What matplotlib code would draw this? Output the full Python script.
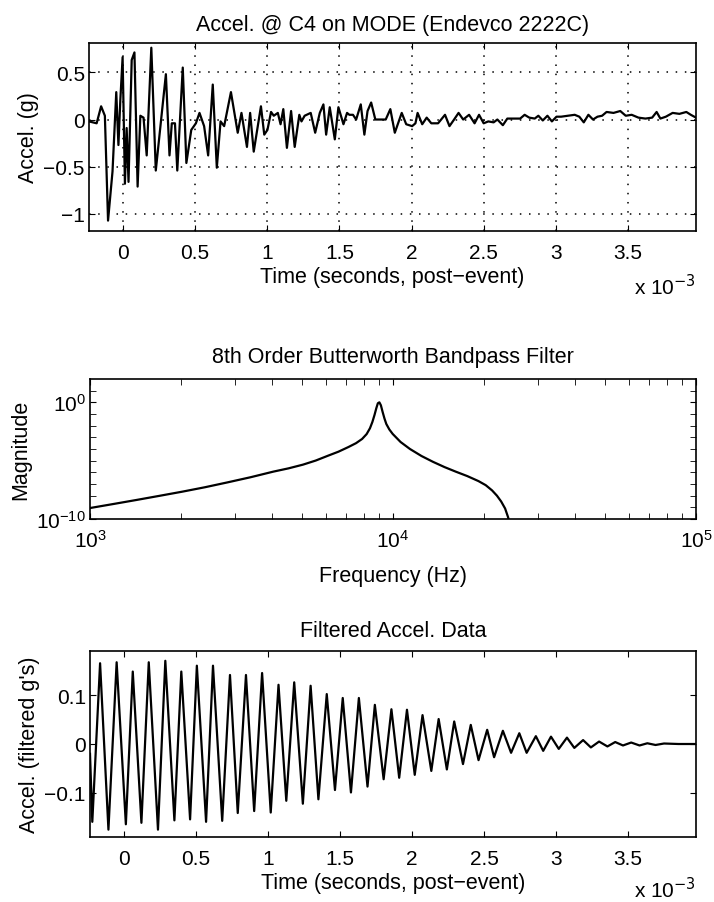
import numpy as np
import matplotlib
matplotlib.use("Agg")
import matplotlib.pyplot as plt
from matplotlib.ticker import FixedLocator, FuncFormatter, NullFormatter, LogLocator

# ---- raw accelerometer record (time in ms, accel in g) ----
t_raw_ms = [-0.236, -0.183, -0.152, -0.126, -0.104, -0.073, -0.047, -0.032, -0.019, -0.003,
            0.013, 0.025, 0.038, 0.060, 0.079, 0.101, 0.120, 0.142, 0.164, 0.196,
            0.227, 0.297, 0.322, 0.338, 0.360, 0.376, 0.414, 0.439, 0.473, 0.505,
            0.530, 0.562, 0.590, 0.622, 0.650, 0.676, 0.701, 0.748, 0.795, 0.821,
            0.859, 0.881, 0.906, 0.956, 0.979, 1.001, 1.026, 1.045, 1.073, 1.092,
            1.111, 1.136, 1.165, 1.190, 1.222, 1.237, 1.259, 1.301, 1.332, 1.364,
            1.389, 1.408, 1.433, 1.468, 1.493, 1.528, 1.553, 1.569, 1.594, 1.616,
            1.648, 1.673, 1.695, 1.720, 1.749, 1.790, 1.821, 1.853, 1.884, 1.932,
            1.963, 2.004, 2.027, 2.042, 2.074, 2.105, 2.137, 2.184, 2.232, 2.263,
            2.295, 2.326, 2.358, 2.399, 2.437, 2.468, 2.500, 2.532, 2.569, 2.595,
            2.633, 2.664, 2.705, 2.753, 2.784, 2.816, 2.854, 2.879, 2.910, 2.942,
            2.973, 3.005, 3.037, 3.084, 3.131, 3.163, 3.194, 3.226, 3.258, 3.289,
            3.321, 3.352, 3.400, 3.447, 3.485, 3.526, 3.573, 3.621, 3.668, 3.699,
            3.725, 3.763, 3.810, 3.857, 3.905, 3.936, 3.972]
acc_raw = [-0.02, -0.04, 0.14, 0.04, -1.07, -0.55, 0.29, -0.27, 0.20, 0.66,
           -0.68, -0.09, -0.66, 0.63, 0.71, -0.71, 0.04, 0.02, -0.38, 0.76,
           -0.54, 0.48, -0.38, -0.04, -0.04, -0.54, 0.55, -0.46, -0.11, -0.04,
           0.07, -0.07, -0.38, 0.37, -0.51, -0.02, -0.07, 0.29, -0.14, 0.07,
           -0.29, 0.07, -0.34, 0.14, -0.16, -0.11, 0.08, 0.04, 0.07, -0.05,
           0.11, -0.30, 0.09, -0.29, 0.05, -0.02, 0.04, 0.07, -0.14, 0.07,
           0.16, -0.16, 0.13, -0.21, 0.13, -0.05, 0.07, 0.05, 0.05, 0.00,
           0.16, -0.16, 0.09, 0.18, 0.00, 0.00, 0.00, 0.11, -0.14, 0.07,
           -0.05, -0.07, -0.04, 0.07, -0.05, 0.02, -0.04, -0.04, 0.05, -0.07,
           0.00, 0.07, 0.00, 0.05, -0.04, 0.05, -0.04, -0.02, -0.03, 0.00,
           -0.06, 0.01, 0.01, 0.01, 0.05, 0.02, 0.01, 0.04, -0.01, 0.04,
           -0.02, 0.03, 0.03, 0.04, 0.05, 0.03, -0.03, 0.05, 0.00, 0.03,
           0.04, 0.08, 0.07, 0.09, 0.04, 0.05, 0.02, 0.01, 0.02, 0.08,
           0.01, 0.03, 0.07, 0.06, 0.08, 0.05, 0.02]

# ---- filter magnitude response (log10 of frequency in Hz, log10 of magnitude) ----
log_freq = [3.000, 3.076, 3.153, 3.228, 3.304, 3.379, 3.454, 3.530, 3.605, 3.655,
            3.703, 3.745, 3.786, 3.820, 3.853, 3.878, 3.898, 3.913, 3.924, 3.932,
            3.939, 3.945, 3.950, 3.955, 3.960, 3.966, 3.972, 3.978, 3.988, 3.999,
            4.025, 4.056, 4.094, 4.132, 4.170, 4.207, 4.245, 4.282, 4.306, 4.327,
            4.343, 4.357, 4.370, 4.380, 4.390]
log_mag = [-9.06, -8.72, -8.37, -8.02, -7.66, -7.28, -6.86, -6.42, -5.94, -5.66,
           -5.34, -4.99, -4.57, -4.23, -3.83, -3.50, -3.14, -2.72, -2.22, -1.68,
           -1.08, -0.50, -0.08, 0.00, -0.25, -0.85, -1.40, -1.86, -2.33, -2.71,
           -3.40, -4.00, -4.60, -5.10, -5.55, -5.94, -6.32, -6.75, -7.10, -7.55,
           -8.00, -8.50, -9.10, -9.86, -11.0]

# ---- filtered record (time in ms, accel in filtered g's) ----
t_filt_ms = [-0.236, -0.220, -0.166, -0.108, -0.051, 0.013, 0.061, 0.121, 0.172, 0.236,
             0.287, 0.350, 0.398, 0.459, 0.506, 0.570, 0.618, 0.682, 0.736, 0.790,
             0.847, 0.904, 0.959, 1.019, 1.073, 1.127, 1.182, 1.242, 1.296, 1.350,
             1.408, 1.465, 1.519, 1.576, 1.631, 1.691, 1.742, 1.803, 1.857, 1.911,
             1.965, 2.019, 2.073, 2.134, 2.185, 2.242, 2.293, 2.354, 2.408, 2.462,
             2.522, 2.570, 2.631, 2.688, 2.745, 2.796, 2.860, 2.911, 2.965, 3.019,
             3.076, 3.127, 3.188, 3.242, 3.299, 3.357, 3.411, 3.465, 3.522, 3.580,
             3.634, 3.691, 3.750, 3.850, 3.972]
acc_filt = [-0.02, -0.159, 0.165, -0.175, 0.167, -0.164, 0.148, -0.161, 0.167, -0.175,
            0.170, -0.156, 0.148, -0.154, 0.160, -0.159, 0.160, -0.157, 0.141, -0.141,
            0.141, -0.137, 0.145, -0.140, 0.121, -0.116, 0.126, -0.122, 0.119, -0.113,
            0.102, -0.094, 0.094, -0.099, 0.094, -0.087, 0.080, -0.072, 0.071, -0.069,
            0.070, -0.063, 0.059, -0.055, 0.051, -0.052, 0.046, -0.041, 0.039, -0.033,
            0.029, -0.027, 0.027, -0.018, 0.022, -0.018, 0.016, -0.014, 0.015, -0.010,
            0.013, -0.008, 0.008, -0.007, 0.005, -0.005, 0.004, -0.003, 0.003, -0.003,
            0.0015, -0.002, 0.001, 0.0, 0.0]

time_ticks_ms = [0, 0.5, 1, 1.5, 2, 2.5, 3, 3.5]
acc_ticks = [-1, -0.5, 0, 0.5]
filt_ticks = [-0.1, 0, 0.1]

plt.rcParams['font.family'] = ['Liberation Sans', 'DejaVu Sans']
plt.rcParams['font.size'] = 15
plt.rcParams['axes.titlesize'] = 15.5
plt.rcParams['axes.labelsize'] = 15.5
plt.rcParams['axes.linewidth'] = 1.2
plt.rcParams['xtick.direction'] = 'in'
plt.rcParams['ytick.direction'] = 'in'
plt.rcParams['xtick.major.size'] = 4
plt.rcParams['ytick.major.size'] = 4
plt.rcParams['xtick.minor.size'] = 2.5
plt.rcParams['ytick.minor.size'] = 2.5
plt.rcParams['xtick.major.pad'] = 8.5
plt.rcParams['ytick.major.pad'] = 3
plt.rcParams['axes.unicode_minus'] = True

fig = plt.figure(figsize=(7.14, 9.03), dpi=100)

W = 714.0
H = 903.0


def box(left, top, right, bottom):
    return [left / W, 1 - bottom / H, (right - left) / W, (bottom - top) / H]


def signed(v, p):
    return '%g' % v if v >= 0 else '\u2212%g' % -v


ms_fmt = FuncFormatter(lambda v, p: ('%g' % round(v / 1e-3, 6)))
xlim_t = (-0.236e-3, 3.972e-3)

# ---- raw acceleration ----
ax1 = fig.add_axes(box(89, 44, 696, 232))
ax1.plot(np.array(t_raw_ms) * 1e-3, acc_raw, color='black', lw=1.6)
ax1.set_xlim(*xlim_t)
ax1.set_ylim(-1.18, 0.81)
ax1.set_xticks(np.array(time_ticks_ms) * 1e-3)
ax1.xaxis.set_major_formatter(ms_fmt)
ax1.set_yticks(acc_ticks)
ax1.yaxis.set_major_formatter(FuncFormatter(signed))
ax1.tick_params(top=True, right=True)
ax1.grid(True, color='black', linestyle=(0, (1, 5)), lw=1.1)
ax1.set_title('Accel. @ C4 on MODE (Endevco 2222C)', pad=9)
ax1.set_xlabel('Time (seconds, post\u2212event)', labelpad=3)
ax1.set_ylabel('Accel. (g)')
ax1.yaxis.set_label_coords(-0.083, 0.5)
ax1.text(1.0, -0.293, 'x 10$^{-3}$', transform=ax1.transAxes, ha='right', va='center')

# ---- filter response ----
ax2 = fig.add_axes(box(90, 380, 696, 520))
ax2.plot(10 ** np.array(log_freq), 10 ** np.array(log_mag), color='black', lw=1.6)
ax2.set_xscale('log')
ax2.set_yscale('log')
ax2.set_xlim(1e3, 1e5)
ax2.set_ylim(1e-10, 1e2)
ax2.xaxis.set_major_locator(FixedLocator([1e3, 1e4, 1e5]))
ax2.xaxis.set_minor_locator(LogLocator(base=10, subs=np.arange(2, 10)))
ax2.xaxis.set_minor_formatter(NullFormatter())
ax2.yaxis.set_major_locator(FixedLocator([1e-10, 1e0]))
ax2.yaxis.set_minor_locator(FixedLocator([10.0 ** k for k in range(-9, 2) if k != 0]))
ax2.yaxis.set_minor_formatter(NullFormatter())
ax2.tick_params(which='both', top=True, right=True)
ax2.tick_params(which='minor', length=4)
ax2.tick_params(axis='x', which='major', pad=7)
ax2.set_title('8th Order Butterworth Bandpass Filter', pad=12)
ax2.set_xlabel('Frequency (Hz)', labelpad=10)
ax2.set_ylabel('Magnitude')
ax2.yaxis.set_label_coords(-0.097, 0.5)

# ---- filtered acceleration ----
ax3 = fig.add_axes(box(90, 652, 696, 838))
ax3.plot(np.array(t_filt_ms) * 1e-3, acc_filt, color='black', lw=1.6)
ax3.set_xlim(*xlim_t)
ax3.set_ylim(-0.19, 0.19)
ax3.set_xticks(np.array(time_ticks_ms) * 1e-3)
ax3.xaxis.set_major_formatter(ms_fmt)
ax3.set_yticks(filt_ticks)
ax3.yaxis.set_major_formatter(FuncFormatter(signed))
ax3.tick_params(top=True, right=True)
ax3.set_title('Filtered Accel. Data', pad=11)
ax3.set_xlabel('Time (seconds, post\u2212event)', labelpad=3)
ax3.set_ylabel("Accel. (filtered g's)")
ax3.yaxis.set_label_coords(-0.082, 0.5)
ax3.text(1.0, -0.275, 'x 10$^{-3}$', transform=ax3.transAxes, ha='right', va='center')

fig.savefig('out.png', dpi=100)
